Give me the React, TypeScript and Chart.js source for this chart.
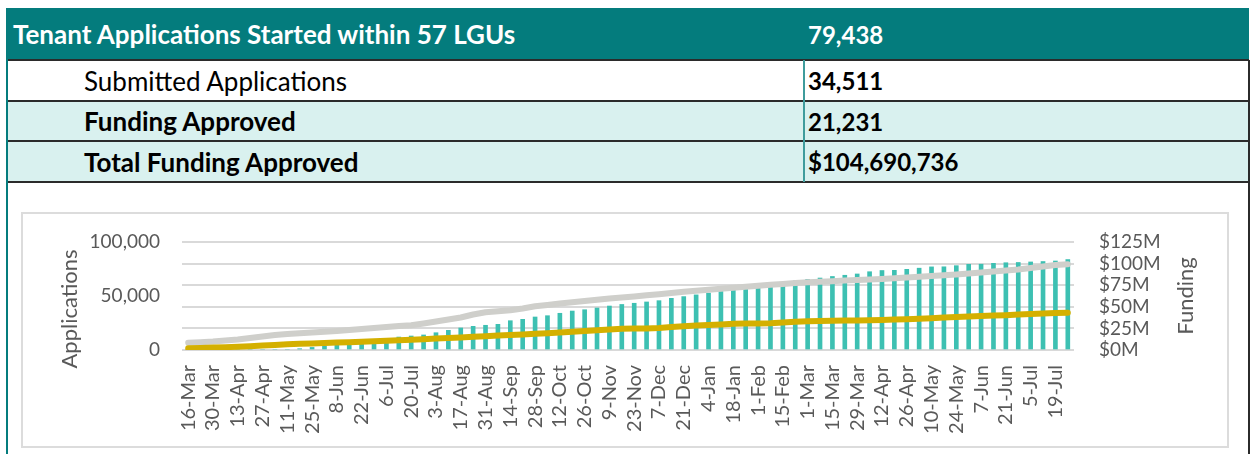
import React, { useEffect, useRef } from 'react';
import { Chart, registerables } from 'chart.js';

Chart.register(...registerables);

// ---- data ----
const weeks = [
  '16-Mar', '23-Mar', '30-Mar', '6-Apr', '13-Apr', '20-Apr', '27-Apr', '4-May', '11-May', '18-May',
  '25-May', '1-Jun', '8-Jun', '15-Jun', '22-Jun', '29-Jun', '6-Jul', '13-Jul', '20-Jul', '27-Jul',
  '3-Aug', '10-Aug', '17-Aug', '24-Aug', '31-Aug', '7-Sep', '14-Sep', '21-Sep', '28-Sep', '5-Oct',
  '12-Oct', '19-Oct', '26-Oct', '2-Nov', '9-Nov', '16-Nov', '23-Nov', '30-Nov', '7-Dec', '14-Dec',
  '21-Dec', '28-Dec', '4-Jan', '11-Jan', '18-Jan', '25-Jan', '1-Feb', '8-Feb', '15-Feb', '22-Feb',
  '1-Mar', '8-Mar', '15-Mar', '22-Mar', '29-Mar', '5-Apr', '12-Apr', '19-Apr', '26-Apr', '3-May',
  '10-May', '17-May', '24-May', '31-May', '7-Jun', '14-Jun', '21-Jun', '28-Jun', '5-Jul', '12-Jul',
  '19-Jul', '26-Jul',
];

// cumulative applications started (left axis)
const startedApps = [
  6760, 7220, 7870, 8800, 9720, 11110, 12500, 13890, 14810, 15460,
  16110, 16850, 17590, 18520, 19440, 20370, 21300, 22220, 22870, 24540,
  26390, 28240, 30090, 32870, 34910, 35930, 36760, 38430, 40460, 41670,
  43060, 44170, 45370, 46480, 47690, 48610, 49540, 50650, 51670, 52780,
  53890, 54810, 55740, 56670, 57590, 58520, 59440, 60370, 61200, 62040,
  62780, 63150, 63700, 64260, 64810, 65280, 65740, 66390, 67130, 67780,
  68520, 69260, 69910, 70740, 71670, 72590, 73610, 74630, 75930, 77310,
  78700, 79438,
];

// cumulative submitted applications (left axis)
const submittedApps = [
  1570, 1850, 2220, 2590, 3060, 3520, 4070, 4630, 5280, 5740,
  6110, 6480, 6850, 7220, 7590, 8060, 8520, 8980, 9440, 10000,
  10560, 11110, 11670, 12220, 12780, 13330, 13890, 14440, 15000, 15560,
  16300, 16940, 17590, 18240, 18980, 19700, 19800, 19900, 20370, 21300,
  22040, 22590, 23150, 23700, 24260, 24540, 24600, 24720, 25460, 26110,
  26570, 26850, 27040, 27220, 27410, 27590, 27780, 28150, 28520, 28980,
  29440, 30000, 30460, 30930, 31390, 31850, 32220, 32780, 33330, 33800,
  34260, 34511,
];

// cumulative funding approved, $ millions (right axis)
const fundingApprovedM = [
  0, 0, 0, 0, 0, 0, 0, 0, 0, 1.5,
  3, 4.5, 6, 7.5, 8.5, 9.6, 11.6, 15.0, 16.2, 17.4,
  20.0, 22.8, 25.5, 27.4, 28.6, 29.7, 33.9, 35.5, 38.2, 39.7,
  42.5, 45.1, 46.6, 48.6, 50.9, 52.7, 54.1, 55.6, 57.1, 59.8,
  61.8, 63.8, 65.9, 67.8, 69.8, 71.8, 73.8, 75.8, 77.8, 79.9,
  81.8, 83.3, 85.1, 86.5, 88.0, 90.6, 92.0, 92.2, 93.4, 94.7,
  96.2, 96.3, 97.6, 99.2, 99.3, 100.3, 101.0, 101.3, 101.9, 102.4,
  103.0, 104.69,
];

const summaryLabels = [
  'Tenant Applications Started within 57 LGUs',
  'Submitted Applications',
  'Funding Approved',
  'Total Funding Approved',
];
const summaryValues = ['79,438', '34,511', '21,231', '$104,690,736'];

const leftAxisTitle = 'Applications';
const rightAxisTitle = 'Funding';

// ---- styles ----
const TEAL = '#047c7d';
const LIGHT = '#d9f1ef';
const AXIS_TEXT = '#595959';
const FONT = 'Lato, "Open Sans", sans-serif';

const axisTitlesPlugin = {
  id: 'axisTitles',
  afterDraw(chart: any) {
    const { ctx, chartArea } = chart;
    ctx.save();
    ctx.fillStyle = AXIS_TEXT;
    ctx.font = '22px Lato';
    ctx.textAlign = 'center';
    ctx.textBaseline = 'middle';
    ctx.save();
    ctx.translate(chartArea.left - 112, chartArea.top + 67);
    ctx.rotate(-Math.PI / 2);
    ctx.fillText(leftAxisTitle, 0, 0);
    ctx.restore();
    ctx.save();
    ctx.translate(chartArea.right + 112, chartArea.top + 54);
    ctx.rotate(-Math.PI / 2);
    ctx.fillText(rightAxisTitle, 0, 0);
    ctx.restore();
    ctx.restore();
  },
};

export default function App() {
  const ref = useRef<HTMLCanvasElement>(null);

  useEffect(() => {
    const tickFont = { family: 'Lato', size: 19 };
    const chart = new Chart(ref.current as HTMLCanvasElement, {
      type: 'bar',
      data: {
        labels: weeks,
        datasets: [
          {
            type: 'line',
            label: 'Submitted Applications',
            data: submittedApps,
            yAxisID: 'y',
            borderColor: '#d4b000',
            backgroundColor: '#d4b000',
            borderWidth: 6,
            pointRadius: 0,
            tension: 0,
            borderCapStyle: 'round',
            borderJoinStyle: 'round',
            order: 0,
          } as any,
          {
            type: 'line',
            label: 'Applications Started',
            data: startedApps,
            yAxisID: 'y',
            borderColor: '#cfcfcb',
            backgroundColor: '#cfcfcb',
            borderWidth: 6,
            pointRadius: 0,
            tension: 0,
            borderCapStyle: 'round',
            borderJoinStyle: 'round',
            order: 1,
          } as any,
          {
            type: 'bar',
            label: 'Funding Approved',
            data: fundingApprovedM,
            yAxisID: 'y1',
            backgroundColor: '#3dc0b2',
            barThickness: 4,
            order: 2,
          } as any,
        ],
      },
      options: {
        responsive: false,
        animation: false,
        layout: { padding: { top: 29, left: 0, right: 0, bottom: 0 } },
        plugins: {
          legend: { display: false },
          tooltip: { enabled: false },
        },
        scales: {
          x: {
            grid: { display: false, drawTicks: false },
            border: { display: false },
            ticks: {
              autoSkip: false,
              maxRotation: 90,
              minRotation: 90,
              padding: 15,
              color: AXIS_TEXT,
              font: { family: 'Lato', size: 20 },
              callback: (_v: any, i: number) => (i % 2 === 0 ? weeks[i] : ''),
            },
            afterFit: (s: any) => {
              s.height = 97;
            },
          },
          y: {
            position: 'left',
            min: 0,
            max: 100000,
            ticks: {
              stepSize: 50000,
              autoSkip: false,
              padding: 22,
              color: AXIS_TEXT,
              font: tickFont,
              callback: (v: any) => Number(v).toLocaleString('en-US'),
            },
            grid: { display: false, drawTicks: false },
            border: { display: false },
            afterFit: (s: any) => {
              s.width = 160;
              s.paddingTop = 0;
              s.paddingBottom = 0;
            },
          },
          y1: {
            position: 'right',
            min: 0,
            max: 125,
            ticks: {
              stepSize: 25,
              autoSkip: false,
              padding: 25,
              color: AXIS_TEXT,
              font: tickFont,
              callback: (v: any) => `$${v}M`,
            },
            grid: { color: '#d9d9d9', lineWidth: 2, drawTicks: false },
            border: { display: false },
            afterFit: (s: any) => {
              s.width = 154;
              s.paddingTop = 0;
              s.paddingBottom = 0;
            },
          },
        },
      } as any,
      plugins: [axisTitlesPlugin],
    });
    return () => chart.destroy();
  }, []);

  const rowTops = [8, 60, 101, 141];
  const rowHeights = [52, 41, 40, 41];
  const rowBgs = [TEAL, '#ffffff', LIGHT, LIGHT];

  return (
    <div
      style={{
        position: 'fixed',
        left: 0,
        top: 0,
        width: 1253,
        height: 454,
        background: '#ffffff',
        fontFamily: FONT,
        overflow: 'hidden',
      }}
    >
      {summaryLabels.map((label, i) => (
        <div
          key={label}
          style={{
            position: 'absolute',
            left: 7,
            top: rowTops[i],
            width: 1242,
            height: rowHeights[i],
            background: rowBgs[i],
            color: i === 0 ? '#ffffff' : '#000000',
            display: 'flex',
            alignItems: 'center',
          }}
        >
          <span
            style={{
              position: 'absolute',
              left: i === 0 ? 6 : 77,
              fontSize: 26,
              fontWeight: i === 1 ? 400 : 700,
            }}
          >
            {label}
          </span>
          <span style={{ position: 'absolute', left: 801, fontSize: 24, fontWeight: 700 }}>
            {summaryValues[i]}
          </span>
        </div>
      ))}
      {/* horizontal row rules */}
      {[60, 101, 141, 182].map((y) => (
        <div
          key={y}
          style={{ position: 'absolute', left: 7, top: y - 1, width: 1242, height: 1.5, background: '#2b2b2b' }}
        />
      ))}
      {/* column divider */}
      <div style={{ position: 'absolute', left: 803, top: 60, width: 1.5, height: 122, background: '#3f9c9c' }} />
      {/* outer left / right borders */}
      <div style={{ position: 'absolute', left: 6, top: 8, width: 1.5, height: 446, background: TEAL }} />
      <div style={{ position: 'absolute', left: 1248, top: 60, width: 1.5, height: 394, background: '#2b2b2b' }} />
      {/* chart box */}
      <div
        style={{
          position: 'absolute',
          left: 21,
          top: 212,
          width: 1208,
          height: 236,
          border: '2px solid #dcdcdc',
          boxSizing: 'border-box',
        }}
      />
      <canvas
        ref={ref}
        width={1206}
        height={234}
        style={{ position: 'absolute', left: 22, top: 213, width: 1206, height: 234 }}
      />
    </div>
  );
}
